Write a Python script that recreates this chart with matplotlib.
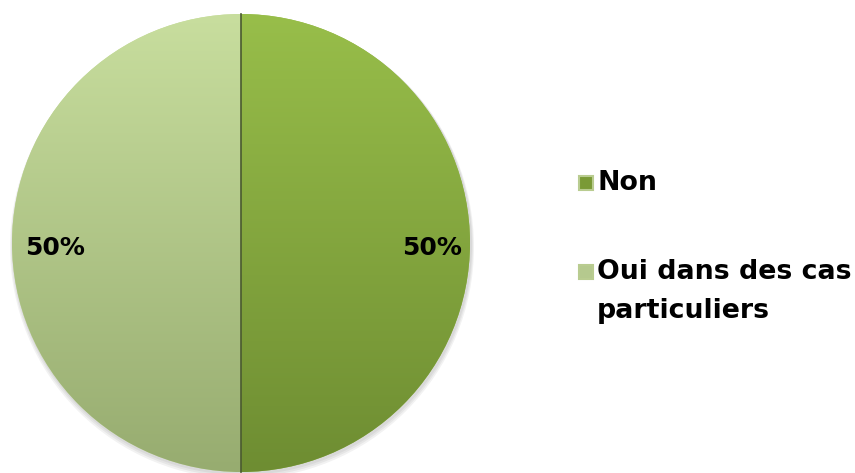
import numpy as np
import matplotlib.pyplot as plt
from matplotlib.colors import LinearSegmentedColormap
from matplotlib.patches import Rectangle

labels = ['Non', 'Oui dans des cas\nparticuliers']
values = [50, 50]
top_colors = ['#98BE4A', '#C8DE9E']
bottom_colors = ['#6E8D32', '#97AC70']
marker_colors = ['#7A9A36', '#B5C98E']

fig = plt.figure(figsize=(8.55, 4.73), dpi=100)
ax = fig.add_axes([0, 0, 1, 1])

cx, cy, r = 241, 230, 229

# soft shadow
for k in range(3):
    ax.add_patch(plt.Circle((cx + 1, cy - 2 - k), r + 1 + k, color='black', alpha=0.05, lw=0, zorder=0))

wedges, texts, autotexts = ax.pie(values, startangle=90, counterclock=False,
                                  center=(cx, cy), radius=r, colors=top_colors,
                                  autopct='%1.0f%%', pctdistance=0.82,
                                  wedgeprops=dict(linewidth=0),
                                  textprops=dict(fontsize=18, fontweight='bold', color='black'),
                                  frame=True)
ax.set_xlim(0, 855)
ax.set_ylim(0, 473)
ax.set_aspect('equal')
ax.axis('off')

for w, tc, bc in zip(wedges, top_colors, bottom_colors):
    cmap = LinearSegmentedColormap.from_list('g', [bc, tc])
    grad = np.linspace(0, 1, 256).reshape(-1, 1)
    im = ax.imshow(grad, cmap=cmap, origin='lower', aspect='auto',
                   extent=(cx - r, cx + r, cy - r, cy + r), zorder=1)
    im.set_clip_path(w)
    w.set_zorder(1)

for t in autotexts:
    t.set_zorder(5)
    x, y = t.get_position()
    t.set_position((x + 3 if x > cx else x + 2, y - 5))

ax.plot([cx, cx], [cy - r, cy + r], color='#4A5A30', lw=1.2, zorder=3)

# legend drawn by hand so the marker sits on the first text line
leg_y = [473 - 183, 473 - 272]
for lab, mc, y0 in zip(labels, marker_colors, leg_y):
    ax.add_patch(Rectangle((579, y0 - 7), 14, 14, facecolor=mc, edgecolor='#B9CC90', lw=1.5, zorder=5))
    for i, line in enumerate(lab.split('\n')):
        ax.text(597, y0 - i * 39, line, fontsize=19.3, fontweight='bold', va='center', ha='left')

fig.savefig('out.png', dpi=100)
